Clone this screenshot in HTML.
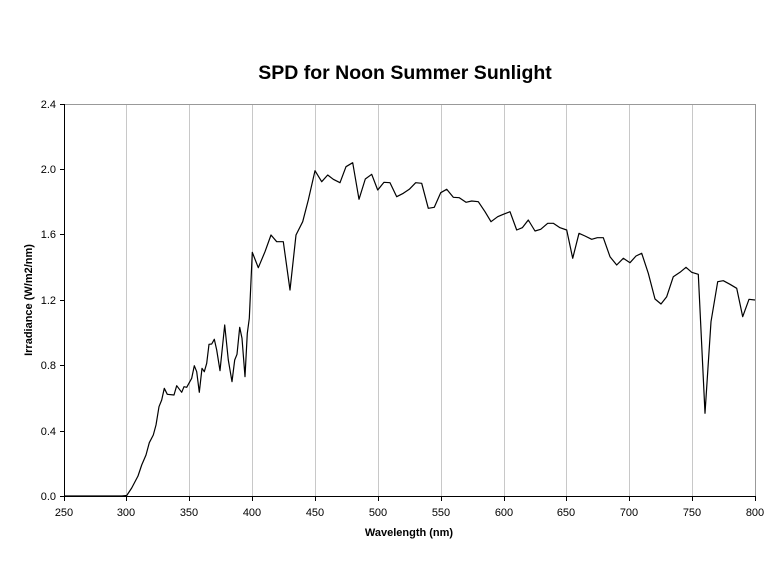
<!DOCTYPE html>
<html><head><meta charset="utf-8"><style>body{margin:0;background:#fff}svg{display:block}text{font-family:"Liberation Sans",Arial,sans-serif;fill:#000}</style></head><body>
<svg width="768" height="583" viewBox="0 0 768 583">
<text x="405" y="79" font-size="19.5" font-weight="bold" text-anchor="middle">SPD for Noon Summer Sunlight</text>
<g stroke="#c8c8c8" stroke-width="1">
<line x1="126.5" y1="104" x2="126.5" y2="496"/><line x1="189.5" y1="104" x2="189.5" y2="496"/><line x1="252.5" y1="104" x2="252.5" y2="496"/><line x1="315.5" y1="104" x2="315.5" y2="496"/><line x1="378.5" y1="104" x2="378.5" y2="496"/><line x1="441.5" y1="104" x2="441.5" y2="496"/><line x1="504.5" y1="104" x2="504.5" y2="496"/><line x1="566.5" y1="104" x2="566.5" y2="496"/><line x1="629.5" y1="104" x2="629.5" y2="496"/><line x1="692.5" y1="104" x2="692.5" y2="496"/>
</g>
<line x1="64" y1="104.5" x2="755" y2="104.5" stroke="#999"/>
<line x1="755.5" y1="104" x2="755.5" y2="496" stroke="#999"/>
<g stroke="#000" stroke-width="1">
<line x1="64.5" y1="104" x2="64.5" y2="497"/><line x1="64" y1="496.5" x2="756" y2="496.5"/>
<line x1="60" y1="104.5" x2="64" y2="104.5"/><line x1="60" y1="169.5" x2="64" y2="169.5"/><line x1="60" y1="234.5" x2="64" y2="234.5"/><line x1="60" y1="300.5" x2="64" y2="300.5"/><line x1="60" y1="365.5" x2="64" y2="365.5"/><line x1="60" y1="431.5" x2="64" y2="431.5"/><line x1="60" y1="496.5" x2="64" y2="496.5"/>
<line x1="64.5" y1="496" x2="64.5" y2="501"/><line x1="126.5" y1="496" x2="126.5" y2="501"/><line x1="189.5" y1="496" x2="189.5" y2="501"/><line x1="252.5" y1="496" x2="252.5" y2="501"/><line x1="315.5" y1="496" x2="315.5" y2="501"/><line x1="378.5" y1="496" x2="378.5" y2="501"/><line x1="441.5" y1="496" x2="441.5" y2="501"/><line x1="504.5" y1="496" x2="504.5" y2="501"/><line x1="566.5" y1="496" x2="566.5" y2="501"/><line x1="629.5" y1="496" x2="629.5" y2="501"/><line x1="692.5" y1="496" x2="692.5" y2="501"/><line x1="755.5" y1="496" x2="755.5" y2="501"/>
</g>
<g font-size="11" text-anchor="end">
<text x="56" y="108">2.4</text><text x="56" y="173">2.0</text><text x="56" y="238">1.6</text><text x="56" y="304">1.2</text><text x="56" y="369">0.8</text><text x="56" y="435">0.4</text><text x="56" y="500">0.0</text>
</g>
<g font-size="11" text-anchor="middle">
<text x="64" y="516">250</text><text x="126" y="516">300</text><text x="189" y="516">350</text><text x="252" y="516">400</text><text x="315" y="516">450</text><text x="378" y="516">500</text><text x="441" y="516">550</text><text x="504" y="516">600</text><text x="566" y="516">650</text><text x="629" y="516">700</text><text x="692" y="516">750</text><text x="755" y="516">800</text>
</g>
<text x="409" y="536" font-size="11" font-weight="bold" text-anchor="middle">Wavelength (nm)</text>
<text transform="translate(32,300) rotate(-90)" font-size="11" font-weight="bold" text-anchor="middle">Irradiance (W/m2/nm)</text>
<polyline fill="none" stroke="#000" stroke-width="1.2" stroke-linejoin="round" points="64,496 122,496 126.7,495.5 131.7,488 138,476 141.7,465 146,455 149.3,442.7 153.3,435 156,425 159,406.7 161.7,400 164.3,388.3 167.3,394.3 174,395 176.7,385.7 181.7,392.3 184,386.7 186.7,387.3 191.7,378.3 194.3,365.7 196.7,371.7 199.3,392.3 202,368.3 204.3,371.7 206.7,363.3 209,344.3 211.7,344 214.3,339.3 216.7,350 220,370.7 224.7,325 228.3,360 232,381.7 234.7,360 237,354.3 239.7,327.3 242,338.3 245,376.7 247.3,333.3 249.3,318.3 252.3,252.3 258.3,267.7 265,251.7 271,235 276.7,241.7 283.3,241.7 290,290 296,235 302.7,221.7 308.3,200 315,170.7 321.7,181.7 327.7,175 333.3,179.3 340,182.7 346,166.7 352.7,162.7 359,199.3 365.3,179 371.7,174.3 377.7,190 384,182.3 390,182.7 396.7,196.7 403.3,193.3 409.3,189.3 415.7,182.7 421.7,183.3 428.3,208.3 434.3,207.3 440.7,192.7 446.7,189.3 453.3,197.3 459.3,197.7 466,202.3 471.7,201 478.3,201.7 485,211.7 491,221.7 497.7,216.7 503.3,214.3 510,211.7 516.7,230 522.3,227.7 528.3,220 535,231 540.7,229.3 547.7,223.3 553.3,223.3 560,227.7 566.7,230 572.7,258.3 579,233.3 585,236 591.7,239.3 597.3,237.7 603.3,237.7 610,256.7 616.7,265 623.3,258.3 630,262.7 636,256 641.7,253.3 648.3,273.3 655,299 661,304 666.7,296.7 673.3,276.7 680,272.3 686,267.3 691.7,272.3 698.3,274.3 705,413.3 711,321.7 717.7,281.7 723.3,280.7 730,284.3 736.7,288.3 742.7,316.7 749,299.3 755,300"/>
</svg>
</body></html>
